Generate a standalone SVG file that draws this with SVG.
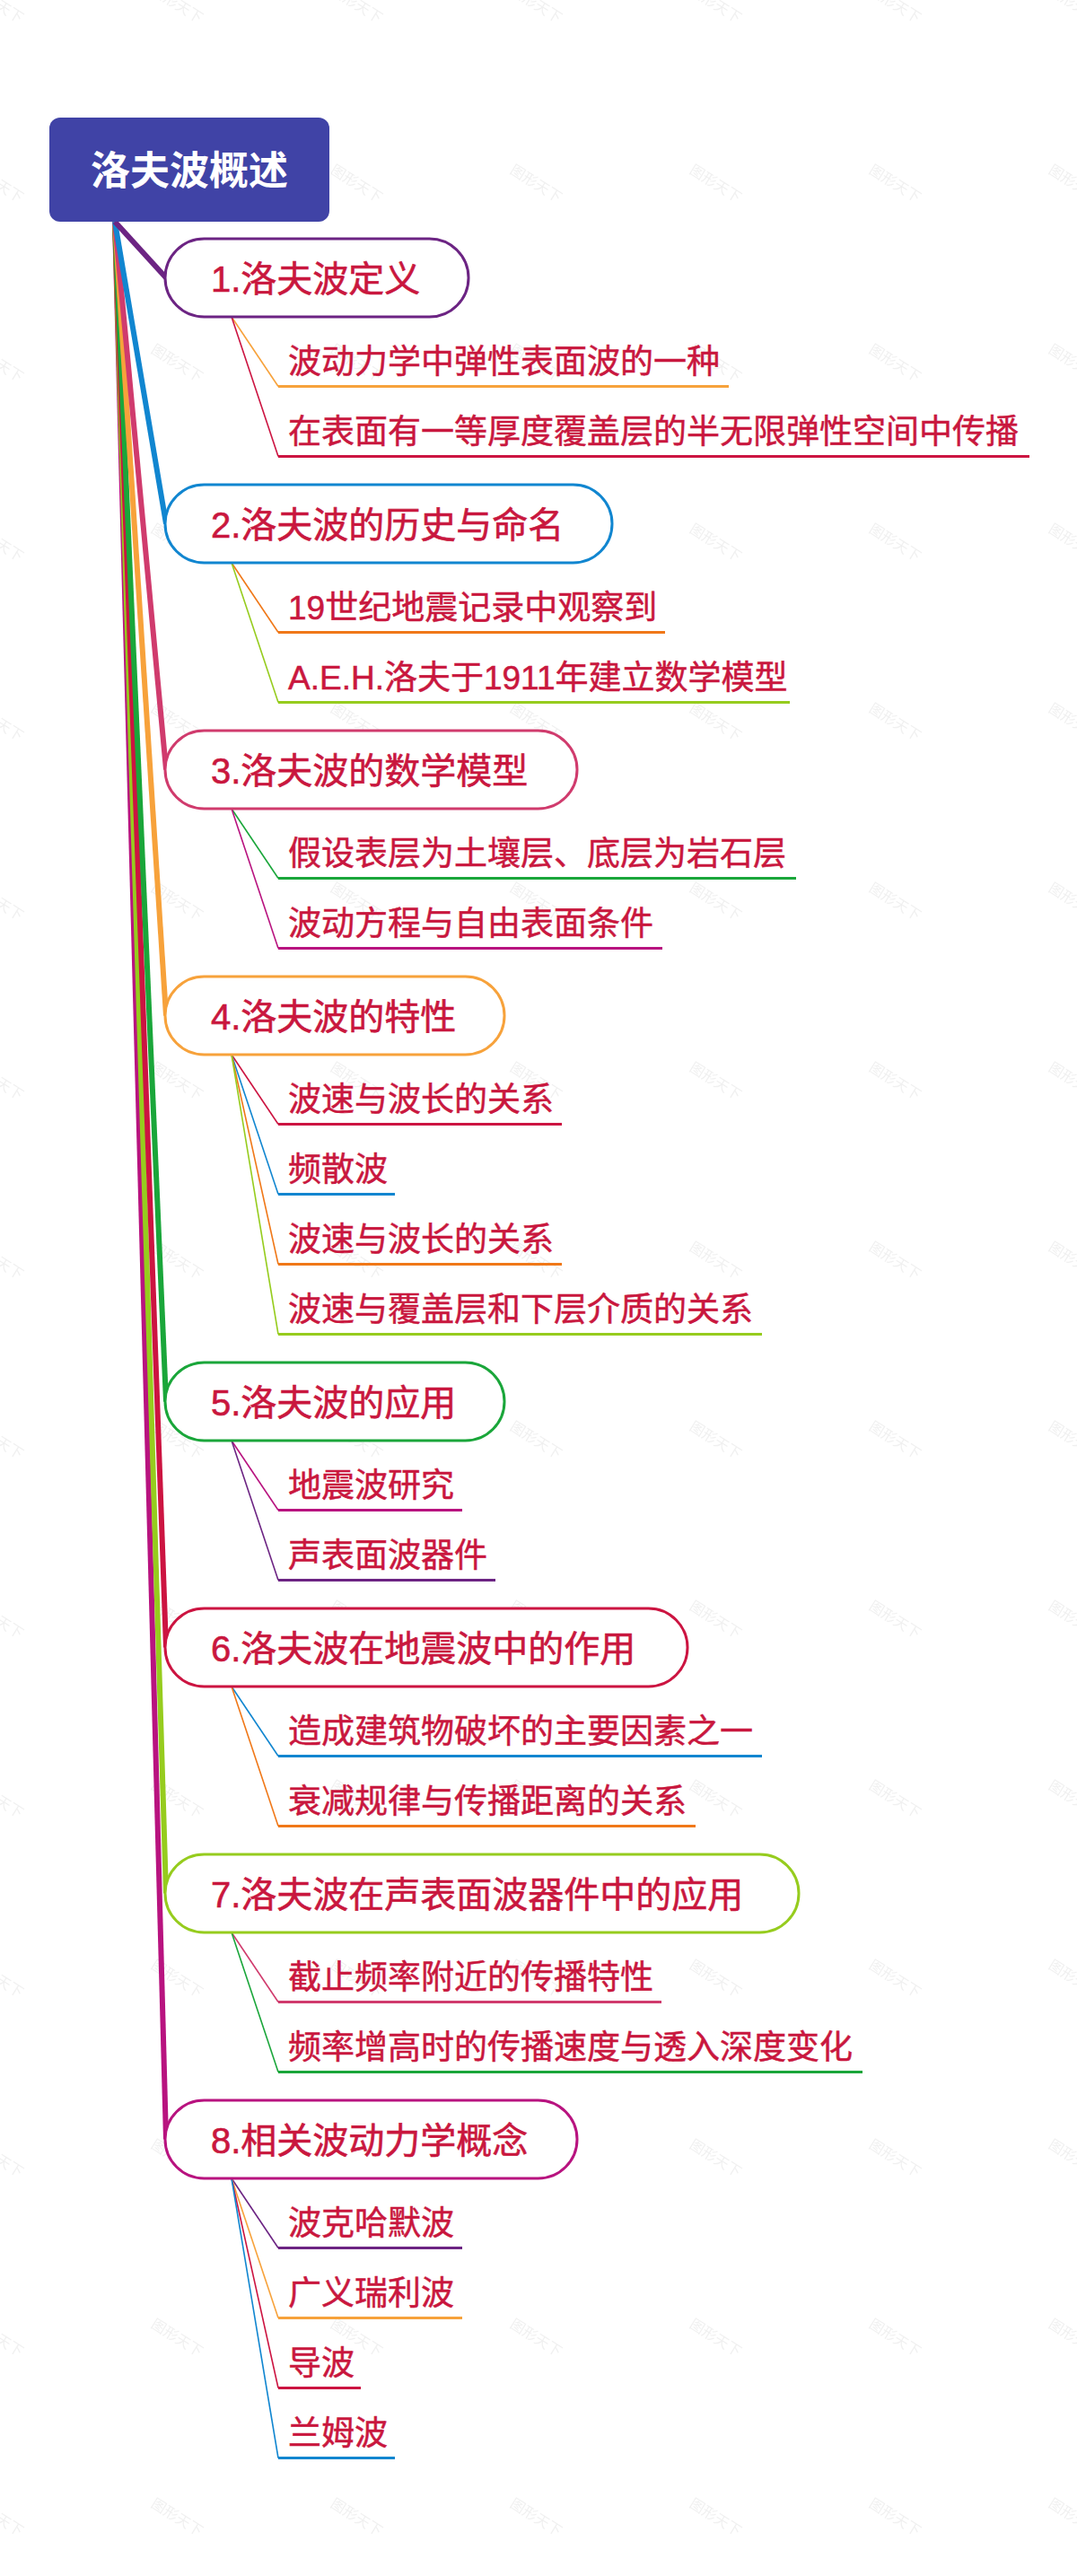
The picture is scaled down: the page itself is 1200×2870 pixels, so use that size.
<svg xmlns="http://www.w3.org/2000/svg" width="1200" height="2870" viewBox="0 0 1200 2870">
<defs>
<style>
.wm{font-family:"Noto Sans CJK SC",sans-serif;font-size:16px;fill:#000;fill-opacity:0.06}
.rt{font-family:"Liberation Sans","Noto Sans CJK SC",sans-serif;font-weight:bold;font-size:44px;fill:#fff}
.pill{fill:#fff;stroke-width:3}
.nt{font-family:"Liberation Sans","Noto Sans CJK SC",sans-serif;font-size:40px;fill:#C9173E;stroke:#C9173E;stroke-width:0.6}
.ct{font-family:"Liberation Sans","Noto Sans CJK SC",sans-serif;font-size:37px;fill:#C9173E;stroke:#C9173E;stroke-width:0.5}
.bl{stroke-width:6;fill:none;stroke-linecap:butt}
.cl{stroke-width:1.6;fill:none}
.ul{stroke-width:3;fill:none}
.purple{stroke:#6C2483}.blue{stroke:#1186D0}.pink{stroke:#D03B6D}.lor{stroke:#F7A23B}
.green{stroke:#1AA63A}.crim{stroke:#CC1441}.lime{stroke:#96CC1E}.mag{stroke:#B8137F}.dor{stroke:#F07818}
</style>
<pattern id="wmp" patternUnits="userSpaceOnUse" x="-103" y="-95" width="200" height="200">
<text class="wm" transform="translate(100,100) rotate(32)" text-anchor="middle" y="5">图形天下</text>
</pattern>
</defs>
<rect width="1200" height="2870" fill="#fff"/>
<rect width="1200" height="2870" fill="url(#wmp)"/>

<g id="connectors">
<line class="bl mag" x1="128" y1="247" x2="185" y2="2383.5"/>
<line class="bl lime" x1="128" y1="247" x2="185" y2="2109.5"/>
<line class="bl crim" x1="128" y1="247" x2="185" y2="1835.5"/>
<line class="bl green" x1="128" y1="247" x2="185" y2="1561.5"/>
<line class="bl lor" x1="128" y1="247" x2="185" y2="1131.5"/>
<line class="bl pink" x1="128" y1="247" x2="185" y2="857.5"/>
<line class="bl blue" x1="128" y1="247" x2="185" y2="583.5"/>
<line class="bl purple" x1="128" y1="247" x2="185" y2="309.5"/>

<polyline class="cl lor" points="258,353 310,430.5"/>
<polyline class="cl crim" points="258,353 310,508.5"/>
<line class="ul lor" x1="310" y1="430.5" x2="812" y2="430.5"/>
<line class="ul crim" x1="310" y1="508.5" x2="1147" y2="508.5"/>

<polyline class="cl dor" points="258,627 310,704.5"/>
<polyline class="cl lime" points="258,627 310,782.5"/>
<line class="ul dor" x1="310" y1="704.5" x2="741" y2="704.5"/>
<line class="ul lime" x1="310" y1="782.5" x2="880" y2="782.5"/>

<polyline class="cl green" points="258,901 310,978.5"/>
<polyline class="cl mag" points="258,901 310,1056.5"/>
<line class="ul green" x1="310" y1="978.5" x2="887" y2="978.5"/>
<line class="ul mag" x1="310" y1="1056.5" x2="738" y2="1056.5"/>

<polyline class="cl crim" points="258,1175 310,1252.5"/>
<polyline class="cl blue" points="258,1175 310,1330.5"/>
<polyline class="cl dor" points="258,1175 310,1408.5"/>
<polyline class="cl lime" points="258,1175 310,1486.5"/>
<line class="ul crim" x1="310" y1="1252.5" x2="626" y2="1252.5"/>
<line class="ul blue" x1="310" y1="1330.5" x2="440" y2="1330.5"/>
<line class="ul dor" x1="310" y1="1408.5" x2="626" y2="1408.5"/>
<line class="ul lime" x1="310" y1="1486.5" x2="849" y2="1486.5"/>

<polyline class="cl mag" points="258,1605 310,1682.5"/>
<polyline class="cl purple" points="258,1605 310,1760.5"/>
<line class="ul mag" x1="310" y1="1682.5" x2="515" y2="1682.5"/>
<line class="ul purple" x1="310" y1="1760.5" x2="552" y2="1760.5"/>

<polyline class="cl blue" points="258,1879 310,1956.5"/>
<polyline class="cl dor" points="258,1879 310,2034.5"/>
<line class="ul blue" x1="310" y1="1956.5" x2="849" y2="1956.5"/>
<line class="ul dor" x1="310" y1="2034.5" x2="775" y2="2034.5"/>

<polyline class="cl pink" points="258,2153 310,2230.5"/>
<polyline class="cl green" points="258,2153 310,2308.5"/>
<line class="ul pink" x1="310" y1="2230.5" x2="737" y2="2230.5"/>
<line class="ul green" x1="310" y1="2308.5" x2="961" y2="2308.5"/>

<polyline class="cl purple" points="258,2427 310,2504.5"/>
<polyline class="cl lor" points="258,2427 310,2582.5"/>
<polyline class="cl crim" points="258,2427 310,2660.5"/>
<polyline class="cl blue" points="258,2427 310,2738.5"/>
<line class="ul purple" x1="310" y1="2504.5" x2="515" y2="2504.5"/>
<line class="ul lor" x1="310" y1="2582.5" x2="515" y2="2582.5"/>
<line class="ul crim" x1="310" y1="2660.5" x2="402" y2="2660.5"/>
<line class="ul blue" x1="310" y1="2738.5" x2="440" y2="2738.5"/>
</g>

<g id="root">
<rect x="55" y="131" width="312" height="116" rx="12" fill="#4043A6"/>
<text class="rt" x="211" y="206" text-anchor="middle">洛夫波概述</text>
</g>

<g id="n1"><rect class="pill purple" x="184" y="266" width="338" height="87" rx="43.5"/><text class="nt" x="235" y="324.5">1.洛夫波定义</text></g>
<g id="n1a"><text class="ct" x="321" y="415.5">波动力学中弹性表面波的一种</text></g>
<g id="n1b"><text class="ct" x="321" y="493.5">在表面有一等厚度覆盖层的半无限弹性空间中传播</text></g>

<g id="n2"><rect class="pill blue" x="184" y="540" width="498" height="87" rx="43.5"/><text class="nt" x="235" y="598.5">2.洛夫波的历史与命名</text></g>
<g id="n2a"><text class="ct" x="321" y="689.5">19世纪地震记录中观察到</text></g>
<g id="n2b"><text class="ct" x="321" y="767.5">A.E.H.洛夫于1911年建立数学模型</text></g>

<g id="n3"><rect class="pill pink" x="184" y="814" width="459" height="87" rx="43.5"/><text class="nt" x="235" y="872.5">3.洛夫波的数学模型</text></g>
<g id="n3a"><text class="ct" x="321" y="963.5">假设表层为土壤层、底层为岩石层</text></g>
<g id="n3b"><text class="ct" x="321" y="1041.5">波动方程与自由表面条件</text></g>

<g id="n4"><rect class="pill lor" x="184" y="1088" width="378" height="87" rx="43.5"/><text class="nt" x="235" y="1146.5">4.洛夫波的特性</text></g>
<g id="n4a"><text class="ct" x="321" y="1237.5">波速与波长的关系</text></g>
<g id="n4b"><text class="ct" x="321" y="1315.5">频散波</text></g>
<g id="n4c"><text class="ct" x="321" y="1393.5">波速与波长的关系</text></g>
<g id="n4d"><text class="ct" x="321" y="1471.5">波速与覆盖层和下层介质的关系</text></g>

<g id="n5"><rect class="pill green" x="184" y="1518" width="378" height="87" rx="43.5"/><text class="nt" x="235" y="1576.5">5.洛夫波的应用</text></g>
<g id="n5a"><text class="ct" x="321" y="1667.5">地震波研究</text></g>
<g id="n5b"><text class="ct" x="321" y="1745.5">声表面波器件</text></g>

<g id="n6"><rect class="pill crim" x="184" y="1792" width="582" height="87" rx="43.5"/><text class="nt" x="235" y="1850.5">6.洛夫波在地震波中的作用</text></g>
<g id="n6a"><text class="ct" x="321" y="1941.5">造成建筑物破坏的主要因素之一</text></g>
<g id="n6b"><text class="ct" x="321" y="2019.5">衰减规律与传播距离的关系</text></g>

<g id="n7"><rect class="pill lime" x="184" y="2066" width="706" height="87" rx="43.5"/><text class="nt" x="235" y="2124.5">7.洛夫波在声表面波器件中的应用</text></g>
<g id="n7a"><text class="ct" x="321" y="2215.5">截止频率附近的传播特性</text></g>
<g id="n7b"><text class="ct" x="321" y="2293.5">频率增高时的传播速度与透入深度变化</text></g>

<g id="n8"><rect class="pill mag" x="184" y="2340" width="459" height="87" rx="43.5"/><text class="nt" x="235" y="2398.5">8.相关波动力学概念</text></g>
<g id="n8a"><text class="ct" x="321" y="2489.5">波克哈默波</text></g>
<g id="n8b"><text class="ct" x="321" y="2567.5">广义瑞利波</text></g>
<g id="n8c"><text class="ct" x="321" y="2645.5">导波</text></g>
<g id="n8d"><text class="ct" x="321" y="2723.5">兰姆波</text></g>
</svg>
